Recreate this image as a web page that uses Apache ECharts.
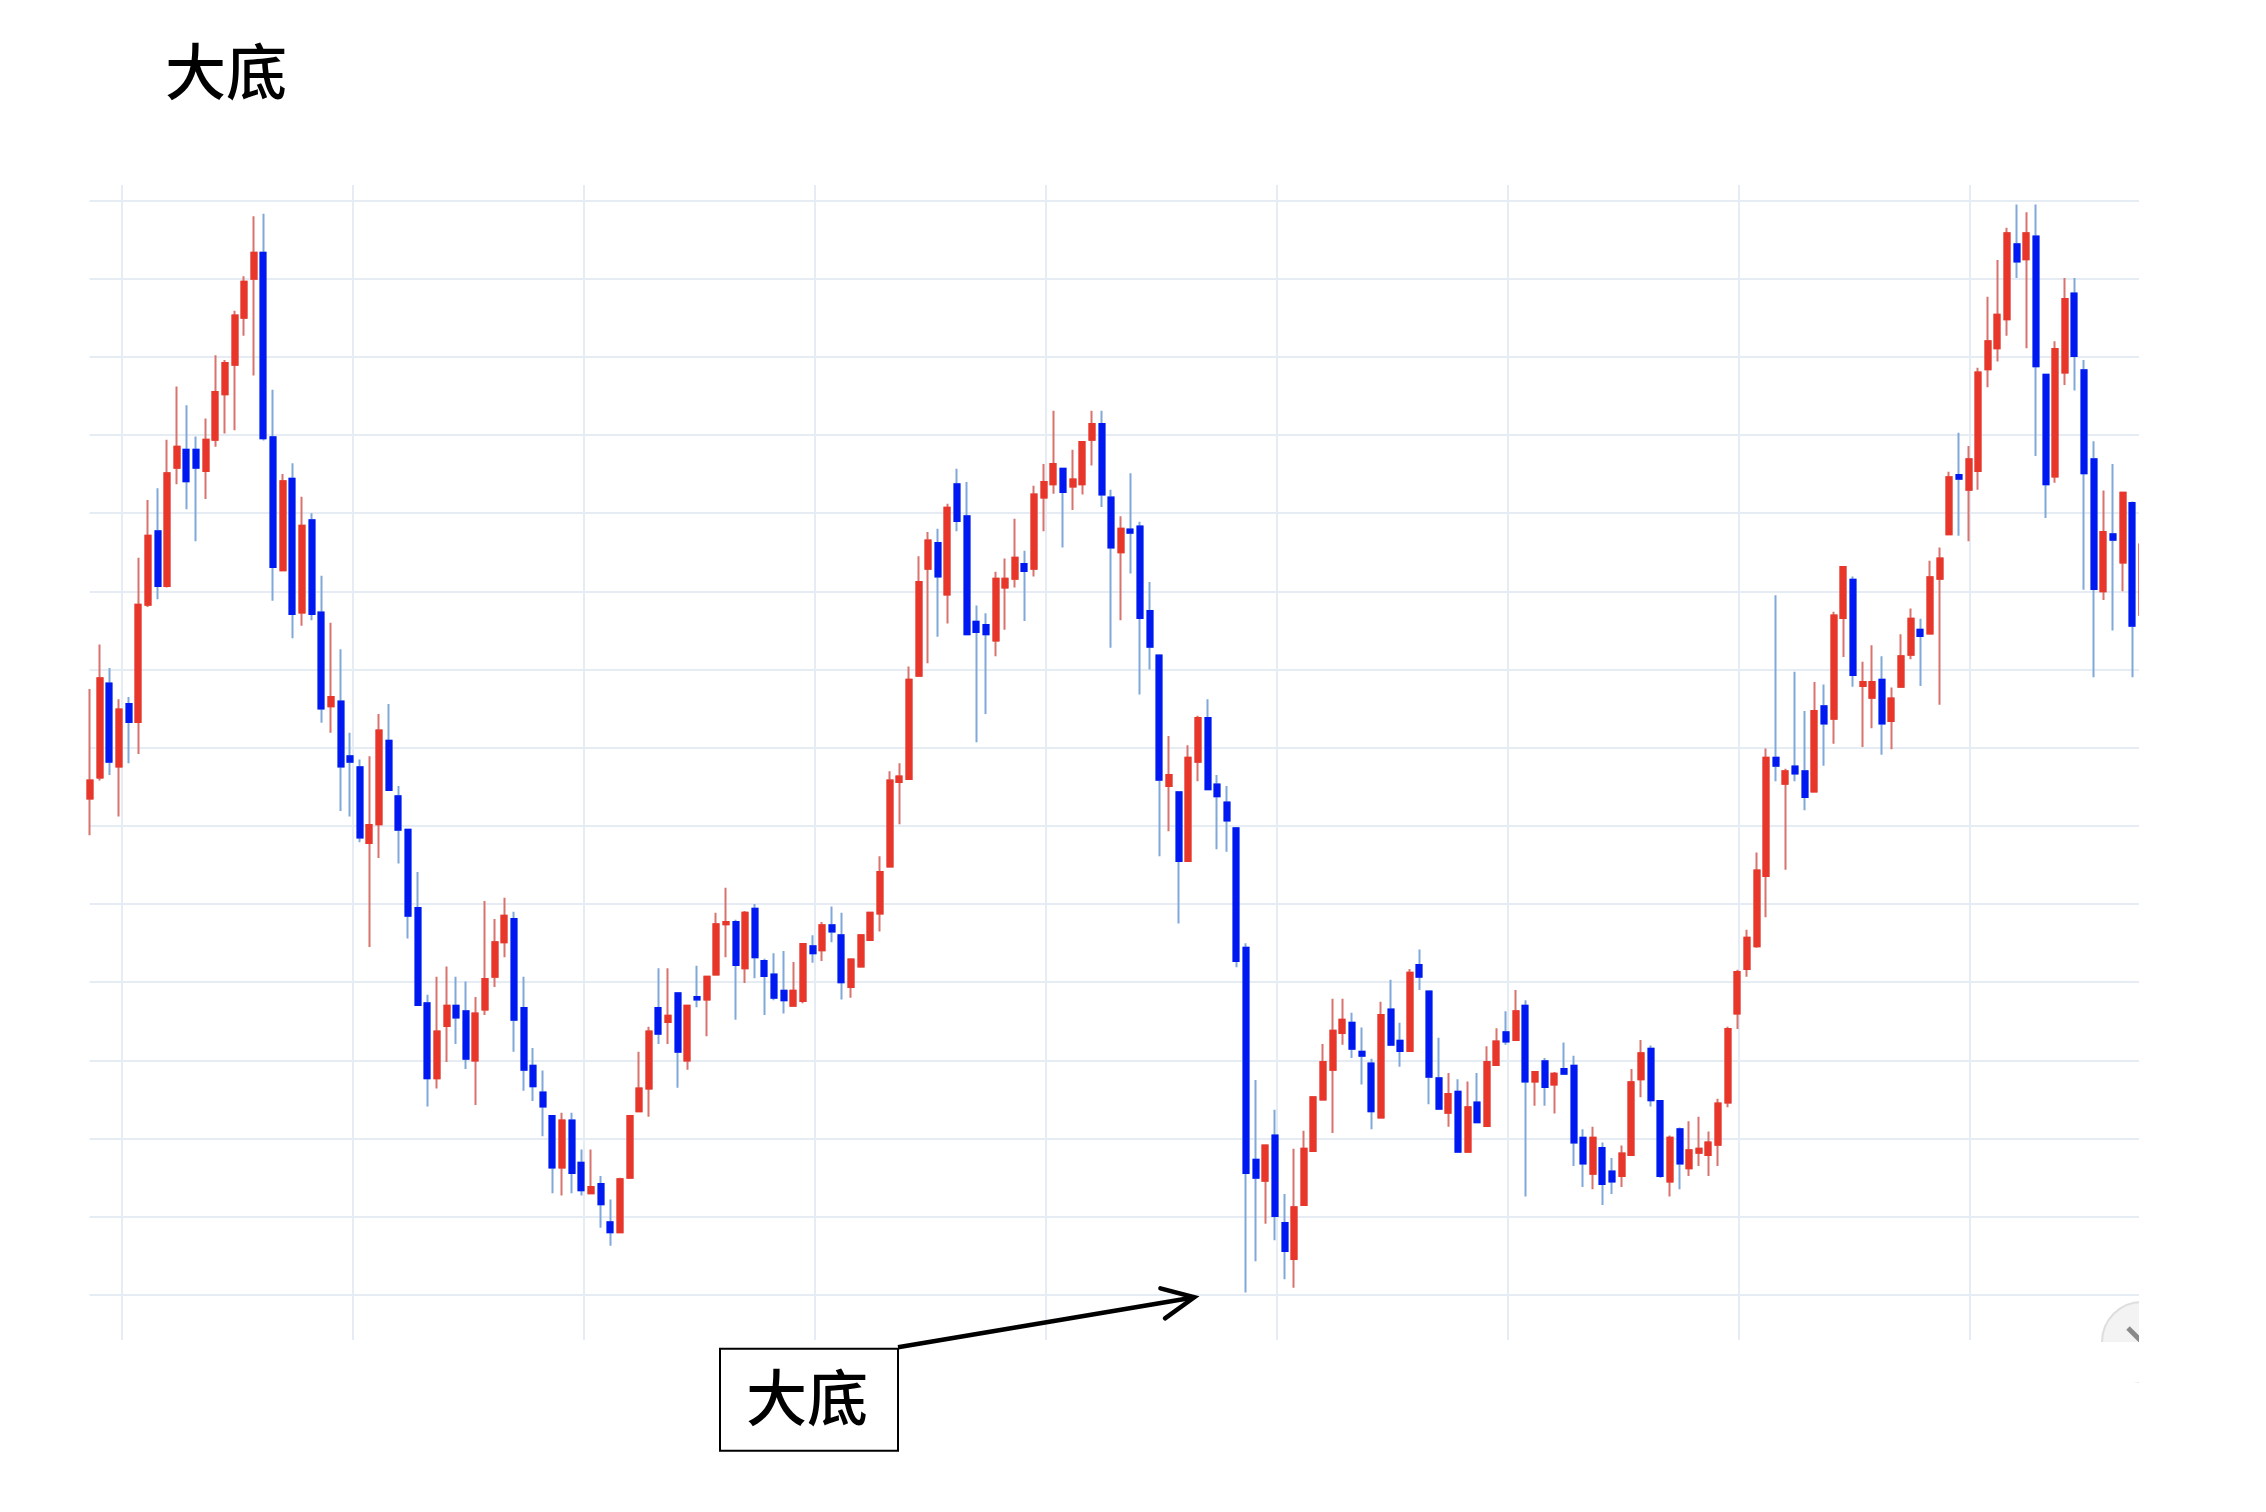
<!DOCTYPE html>
<html>
<head>
<meta charset="utf-8">
<title>大底</title>
<script src="https://cdn.jsdelivr.net/npm/echarts@6/dist/echarts.min.js"></script>
<style>
  html, body { margin: 0; padding: 0; background: #fff; }
  #main { width: 2266px; height: 1512px; }
</style>
</head>
<body>
<div id="main"></div>
<script>
// price series (one candle per trading day)
const openVals = [
  163.5, 166.2, 178.2, 167.6, 175.6, 173.3, 188.3, 197.7, 190.7, 205.8,
  208.1, 208.1, 205.4, 209.4, 215.2, 219.0, 225.0, 230.0, 233.3, 209.7,
  192.7, 204.4, 187.3, 199.1, 187.3, 175.3, 175.9, 168.9, 167.5, 157.8,
  160.2, 170.9, 163.8, 159.5, 149.5, 137.3, 127.7, 134.4, 137.0, 136.3,
  130.0, 136.5, 140.7, 145.1, 148.1, 136.7, 129.3, 125.9, 122.9, 116.3,
  122.3, 116.9, 113.0, 114.2, 109.3, 108.0, 115.0, 123.5, 126.4, 136.7,
  134.9, 138.6, 130.0, 138.1, 137.8, 141.0, 147.4, 147.7, 141.8, 149.4,
  142.7, 141.0, 138.9, 137.0, 137.6, 144.6, 144.1, 147.3, 146.0, 139.4,
  142.0, 145.4, 148.8, 154.8, 165.6, 166.0, 179.2, 192.9, 196.2, 189.6,
  203.7, 199.6, 186.1, 185.7, 183.7, 190.5, 191.6, 193.5, 192.9, 202.0,
  203.7, 205.7, 203.4, 203.7, 209.4, 211.4, 202.0, 195.0, 197.9, 198.3,
  187.5, 181.8, 165.1, 164.3, 155.5, 168.2, 173.8, 165.3, 163.0, 159.7,
  144.4, 117.3, 114.6, 120.4, 109.2, 104.6, 111.5, 118.4, 125.0, 128.8,
  133.5, 134.8, 131.1, 129.6, 122.7, 136.5, 132.5, 131.2, 142.2, 138.8,
  127.7, 123.3, 126.0, 118.3, 124.6, 121.6, 129.4, 133.6, 132.6, 137.0,
  127.3, 129.9, 126.9, 128.9, 129.3, 120.1, 115.5, 118.8, 115.8, 115.2,
  117.9, 127.6, 131.5, 124.8, 114.5, 121.2, 116.2, 118.2, 117.9, 119.2,
  124.6, 136.0, 141.7, 144.6, 153.6, 168.7, 165.4, 167.6, 167.0, 164.4,
  175.3, 173.7, 186.6, 191.5, 177.9, 176.4, 178.7, 173.4, 177.8, 181.9,
  185.1, 184.6, 191.6, 197.3, 204.9, 203.0, 205.4, 218.4, 221.1, 224.8,
  234.4, 232.5, 235.4, 217.7, 204.7, 218.0, 228.1, 218.3, 206.9, 190.0,
  197.3, 193.7, 201.3, 187.0
];
const closeVals = [
  165.8, 178.9, 168.2, 174.9, 173.3, 188.3, 197.1, 190.7, 205.1, 208.5,
  204.1, 205.8, 209.4, 215.5, 219.2, 225.3, 229.6, 233.3, 209.6, 193.1,
  204.1, 187.1, 198.4, 187.1, 175.0, 176.5, 167.6, 168.2, 158.5, 160.1,
  172.2, 164.6, 159.5, 148.5, 137.1, 127.7, 133.7, 137.0, 135.5, 130.2,
  136.0, 140.4, 145.1, 148.5, 135.2, 128.8, 126.7, 124.1, 116.3, 122.3,
  115.6, 113.4, 113.8, 111.6, 108.0, 114.8, 122.9, 126.4, 133.7, 133.4,
  135.7, 131.1, 137.0, 137.8, 140.7, 147.4, 147.7, 142.2, 148.9, 143.2,
  140.8, 138.0, 137.7, 138.9, 144.9, 143.7, 147.3, 146.5, 140.0, 142.9,
  146.0, 148.9, 154.1, 165.8, 166.3, 178.7, 191.2, 196.5, 191.9, 200.7,
  199.0, 184.5, 184.8, 184.5, 191.6, 191.6, 194.3, 192.6, 202.4, 204.0,
  206.3, 202.7, 204.3, 209.1, 211.4, 202.4, 195.6, 198.0, 197.5, 186.6,
  182.9, 165.9, 166.5, 155.5, 168.7, 173.8, 164.7, 163.8, 160.7, 142.7,
  115.6, 115.0, 119.1, 110.1, 105.6, 111.2, 118.7, 125.3, 129.8, 133.8,
  135.2, 131.5, 130.6, 123.5, 135.8, 132.0, 131.2, 141.2, 140.7, 127.9,
  123.8, 125.7, 118.3, 124.0, 122.1, 129.8, 132.4, 132.4, 136.3, 127.3,
  128.5, 126.6, 128.3, 128.3, 119.5, 116.8, 120.1, 114.2, 114.5, 118.1,
  127.2, 130.9, 124.9, 115.2, 120.1, 116.8, 118.5, 118.7, 119.5, 124.5,
  134.0, 141.3, 145.7, 154.3, 168.7, 167.7, 167.0, 166.7, 163.7, 174.7,
  173.1, 186.9, 193.1, 179.3, 178.4, 178.4, 173.1, 176.3, 181.7, 186.5,
  184.3, 191.8, 194.2, 204.6, 204.4, 206.9, 218.0, 222.0, 225.4, 235.8,
  232.2, 235.8, 218.8, 203.7, 221.0, 227.4, 220.1, 205.1, 190.3, 197.6,
  196.6, 202.6, 185.6, 196.0
];
const lowVals = [
  158.8, 165.8, 166.5, 161.2, 168.0, 169.2, 188.0, 189.0, 190.5, 203.7,
  200.5, 196.4, 201.8, 208.5, 210.2, 210.6, 222.7, 217.6, 209.3, 188.8,
  192.7, 184.0, 185.6, 186.3, 173.2, 171.9, 161.9, 161.2, 157.9, 144.5,
  155.9, 164.6, 155.2, 145.6, 137.1, 124.1, 126.4, 129.8, 132.1, 128.9,
  124.3, 135.8, 139.4, 143.2, 131.1, 126.1, 124.8, 120.3, 113.0, 112.7,
  113.0, 112.7, 113.0, 108.6, 106.3, 108.0, 115.0, 123.5, 122.8, 132.1,
  132.1, 126.5, 128.8, 136.8, 133.1, 140.9, 143.2, 135.2, 139.9, 140.5,
  135.8, 137.7, 136.0, 137.0, 137.3, 142.5, 142.7, 145.1, 137.8, 138.0,
  141.9, 145.3, 146.5, 154.8, 160.2, 166.0, 179.2, 180.8, 184.2, 185.9,
  197.7, 184.5, 170.7, 174.3, 181.7, 185.1, 190.5, 186.2, 191.9, 197.7,
  202.5, 195.6, 200.4, 202.4, 206.1, 200.8, 182.8, 186.3, 192.3, 176.8,
  180.0, 156.1, 159.3, 147.5, 155.5, 165.7, 164.7, 157.0, 156.7, 141.9,
  100.3, 104.3, 109.1, 107.0, 102.0, 100.9, 111.4, 118.4, 125.0, 120.7,
  132.0, 130.3, 126.9, 121.2, 122.7, 132.0, 129.2, 131.2, 139.0, 124.4,
  123.8, 121.5, 118.3, 118.3, 122.1, 121.6, 129.4, 132.0, 132.6, 112.6,
  124.2, 124.2, 123.2, 128.3, 116.5, 113.8, 113.5, 111.5, 112.9, 113.8,
  117.9, 125.3, 124.1, 115.0, 112.6, 113.5, 115.2, 116.5, 115.2, 116.5,
  124.0, 134.0, 140.7, 144.4, 148.3, 165.7, 154.4, 165.7, 162.0, 164.4,
  167.7, 170.5, 181.6, 177.8, 170.1, 172.5, 169.1, 169.8, 177.8, 181.3,
  177.9, 184.6, 175.5, 197.3, 197.1, 196.4, 203.0, 216.1, 219.4, 222.7,
  230.1, 221.1, 207.3, 199.4, 203.9, 216.4, 215.7, 190.2, 179.0, 188.9,
  185.0, 190.0, 179.0, 186.0
];
const highVals = [
  177.5, 183.2, 180.2, 176.2, 176.5, 194.3, 201.7, 203.2, 209.4, 216.2,
  213.8, 209.8, 212.1, 220.2, 219.6, 225.9, 230.3, 238.0, 238.3, 215.8,
  205.0, 206.4, 202.1, 200.0, 192.0, 186.0, 182.6, 171.9, 168.5, 168.9,
  174.3, 175.6, 165.1, 159.5, 154.1, 138.4, 140.7, 142.0, 140.7, 140.1,
  138.1, 150.4, 148.1, 150.8, 149.0, 140.7, 131.6, 128.7, 122.9, 123.3,
  123.3, 118.6, 118.6, 115.2, 112.2, 115.0, 122.9, 131.1, 134.3, 141.8,
  141.8, 138.6, 137.0, 142.1, 140.7, 148.9, 152.1, 148.0, 149.1, 150.0,
  143.0, 143.7, 144.0, 142.6, 144.9, 146.0, 147.7, 149.7, 148.9, 142.9,
  146.0, 148.9, 156.1, 167.0, 168.0, 180.4, 194.5, 197.6, 198.0, 201.2,
  205.7, 204.0, 188.2, 187.2, 192.5, 194.2, 199.3, 195.2, 203.5, 206.3,
  213.1, 205.7, 208.1, 209.1, 213.1, 213.1, 203.0, 199.6, 205.1, 198.9,
  191.2, 181.8, 171.5, 164.3, 170.3, 174.1, 176.2, 166.5, 165.1, 159.7,
  145.0, 127.5, 119.1, 123.7, 112.9, 118.7, 121.0, 125.3, 132.1, 137.9,
  137.9, 136.1, 134.2, 130.2, 137.5, 140.3, 134.8, 141.7, 144.2, 138.8,
  132.9, 128.4, 127.6, 127.3, 128.4, 131.8, 134.1, 136.3, 139.0, 137.7,
  128.5, 130.3, 128.5, 132.3, 130.6, 121.2, 121.5, 119.5, 117.5, 119.1,
  128.9, 132.6, 131.9, 124.8, 120.4, 121.4, 122.2, 122.8, 120.9, 125.1,
  134.3, 141.6, 146.7, 156.6, 169.9, 189.5, 167.3, 179.7, 174.7, 178.4,
  178.1, 187.4, 193.1, 191.9, 181.0, 183.1, 181.7, 177.7, 184.5, 187.8,
  186.5, 193.9, 195.6, 205.3, 210.3, 208.6, 218.6, 227.7, 232.4, 236.5,
  239.5, 238.5, 239.5, 217.7, 222.0, 230.1, 230.1, 219.6, 209.2, 202.9,
  206.3, 202.6, 201.5, 200.0
];
const days = openVals.map((v, i) => 'D' + (i + 1));

// axis scale of the price pane (one grid line every 10)
const priceMin = 100;
const priceMax = 240;
const priceStep = 10;
const columnLines = 8;

const upColor = '#e8362a';
const downColor = '#0019f2';
const upWick = '#d9736d';
const downWick = '#80a9d9';
const gridColor = '#e5ecf3';

const candles = openVals.map((o, i) => [o, closeVals[i], lowVals[i], highVals[i]]);
// bodies only, drawn on top so the wick colour does not outline them
const bodies = openVals.map((o, i) => [o, closeVals[i], Math.min(o, closeVals[i]), Math.max(o, closeVals[i])]);

const chart = echarts.init(document.getElementById('main'));

chart.setOption({
  animation: false,
  backgroundColor: '#fff',
  title: {
    text: '大底',
    left: 160,
    top: 36,
    textStyle: {
      fontFamily: 'Noto Sans CJK SC',
      fontSize: 61,
      fontWeight: 500,
      color: '#000'
    }
  },
  grid: [
    // candles
    { left: 90.1, right: 124.1, top: 200.5, bottom: 217.1 },
    // horizontal lines
    { left: 89.6, right: 127, top: 200.5, bottom: 217.1 },
    // vertical lines
    { left: 121.4, right: 296.2, top: 185, bottom: 172 }
  ],
  xAxis: [
    {
      type: 'category',
      gridIndex: 0,
      data: days,
      boundaryGap: false,
      axisLine: { show: false },
      axisTick: { show: false },
      axisLabel: { show: false },
      splitLine: { show: false }
    },
    {
      type: 'value',
      gridIndex: 1,
      show: false
    },
    {
      type: 'value',
      gridIndex: 2,
      min: 0,
      max: columnLines,
      interval: 1,
      axisLine: { show: false },
      axisTick: { show: false },
      axisLabel: { show: false },
      splitLine: { show: true, lineStyle: { color: gridColor, width: 2 } }
    }
  ],
  yAxis: [
    {
      type: 'value',
      gridIndex: 0,
      min: priceMin,
      max: priceMax,
      axisLine: { show: false },
      axisTick: { show: false },
      axisLabel: { show: false },
      splitLine: { show: false }
    },
    {
      type: 'value',
      gridIndex: 1,
      min: priceMin,
      max: priceMax,
      interval: priceStep,
      axisLine: { show: false },
      axisTick: { show: false },
      axisLabel: { show: false },
      splitLine: { show: true, lineStyle: { color: gridColor, width: 2 } }
    },
    {
      type: 'value',
      gridIndex: 2,
      show: false
    }
  ],
  series: [
    {
      name: 'wicks',
      type: 'candlestick',
      xAxisIndex: 0,
      yAxisIndex: 0,
      barWidth: 5.5,
      data: candles,
      itemStyle: {
        color: upColor,
        color0: downColor,
        borderColor: upWick,
        borderColor0: downWick,
        borderWidth: 2
      }
    },
    {
      name: 'bodies',
      type: 'candlestick',
      xAxisIndex: 0,
      yAxisIndex: 0,
      barWidth: 5.5,
      data: bodies,
      itemStyle: {
        color: upColor,
        color0: downColor,
        borderColor: upColor,
        borderColor0: downColor,
        borderWidth: 2
      }
    }
  ],
  graphic: [
    // zoom button peeking in at the corner
    {
      type: 'circle',
      z: 100,
      shape: { cx: 2142, cy: 1342, r: 40 },
      style: { fill: '#f3f3f3', stroke: '#dedede', lineWidth: 2 }
    },
    {
      type: 'line',
      z: 101,
      shape: { x1: 2128, y1: 1328, x2: 2142, y2: 1342 },
      style: { stroke: '#8a8a8a', lineWidth: 5 }
    },
    // crop of the plot on the right and below the button
    {
      type: 'rect',
      z: 102,
      shape: { x: 2139, y: 0, width: 127, height: 1512 },
      style: { fill: '#fff' }
    },
    {
      type: 'rect',
      z: 102,
      shape: { x: 2090, y: 1342, width: 60, height: 40 },
      style: { fill: '#fff' }
    },
    // callout
    {
      type: 'rect',
      z: 110,
      shape: { x: 720, y: 1348.7, width: 178, height: 102 },
      style: { fill: '#fff', stroke: '#000', lineWidth: 2 }
    },
    {
      type: 'text',
      z: 111,
      x: 807,
      y: 1398,
      style: {
        text: '大底',
        fill: '#000',
        font: '500 61px "Noto Sans CJK SC"',
        textAlign: 'center',
        textVerticalAlign: 'middle'
      }
    },
    {
      type: 'line',
      z: 111,
      shape: { x1: 898, y1: 1347.3, x2: 1192, y2: 1297.7 },
      style: { stroke: '#000', lineWidth: 4.5 }
    },
    {
      type: 'polyline',
      z: 111,
      shape: { points: [[1160.4, 1288.3], [1194.3, 1297.3], [1165, 1318.3]] },
      style: { stroke: '#000', fill: null, lineWidth: 4.5, lineCap: 'round', lineJoin: 'miter' }
    }
  ]
});
</script>
</body>
</html>
